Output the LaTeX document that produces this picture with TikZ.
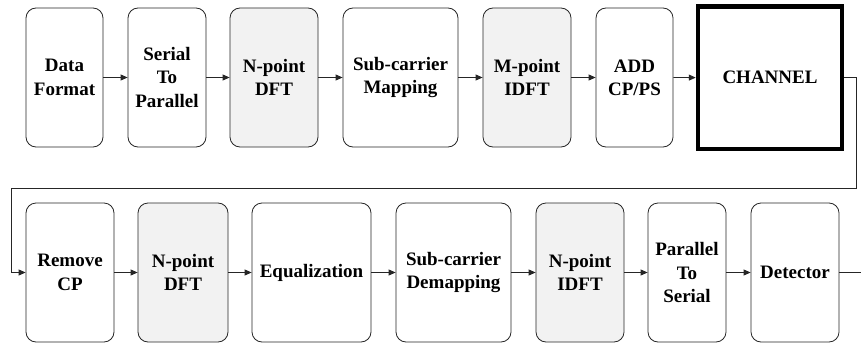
\documentclass[tikz,border=0pt]{standalone}
\usepackage{fontspec}
\setmainfont{Liberation Serif}
\newfontfamily\blkfont{Liberation Serif}[BoldFont={Liberation Serif Bold}]
\usetikzlibrary{arrows.meta}
\begin{document}
\begin{tikzpicture}[x=1pt,y=-1pt,
  blk/.style={draw=black!85, line width=0.8pt, rounded corners=10pt, fill=white,
    inner sep=0pt, align=center, minimum height=139pt,
    font=\blkfont\bfseries\fontsize{19}{23.3}\selectfont},
  shaded/.style={blk, fill=black!5},
  chan/.style={draw=black, line width=4.5pt, inner sep=0pt, align=center,
    minimum width=144pt, minimum height=142.5pt,
    font=\blkfont\bfseries\fontsize{19}{23.3}\selectfont},
  flow/.style={draw=black!85, line width=0.8pt, -{Triangle[length=7pt,width=6pt]}},
  wire/.style={draw=black!85, line width=0.8pt}]
\useasboundingbox (0,0) rectangle (861,345);

% transmitter chain
\node[blk, minimum width=77pt]  (df)  at (64.5,77.5) {Data\\Format};
\node[blk, minimum width=78pt]  (sp)  at (167,77.5)  {Serial\\To\\Parallel};
\node[shaded, minimum width=88pt] (dft) at (274,77.5) {N-point\\DFT};
\node[blk, minimum width=115pt] (scm) at (400.5,77.5) {Sub-carrier\\Mapping};
\node[shaded, minimum width=88pt] (idft) at (527,77.5) {M-point\\IDFT};
\node[blk, minimum width=77pt]  (cp)  at (634.5,77.5) {ADD\\CP/PS};
\node[chan] (ch) at (770,77.75) {CHANNEL};

% receiver chain
\node[blk, minimum width=88pt]  (rcp)  at (70,272.5)  {Remove\\CP};
\node[shaded, minimum width=90pt] (rdft) at (183,272.5) {N-point\\DFT};
\node[blk, minimum width=119pt] (eq)   at (311.5,272.5) {Equalization};
\node[blk, minimum width=115pt] (scd)  at (453.5,272.5) {Sub-carrier\\Demapping};
\node[shaded, minimum width=88pt] (ridft) at (580,272.5) {N-point\\IDFT};
\node[blk, minimum width=78pt]  (ps)   at (687,272.5)  {Parallel\\To\\Serial};
\node[blk, minimum width=88pt]  (det)  at (795,272.5)  {Detector};

\coordinate (out) at (861,272.5);

\draw[flow] (df) -- (sp);
\draw[flow] (sp) -- (dft);
\draw[flow] (dft) -- (scm);
\draw[flow] (scm) -- (idft);
\draw[flow] (idft) -- (cp);
\draw[flow] (cp) -- (ch);

\draw[flow] (ch.east) -- (856,77.75) -- (856,188) -- (11,188) |- (rcp.west);

\draw[flow] (rcp) -- (rdft);
\draw[flow] (rdft) -- (eq);
\draw[flow] (eq) -- (scd);
\draw[flow] (scd) -- (ridft);
\draw[flow] (ridft) -- (ps);
\draw[flow] (ps) -- (det);
\draw[wire] (det) -- (out);
\end{tikzpicture}
\end{document}
